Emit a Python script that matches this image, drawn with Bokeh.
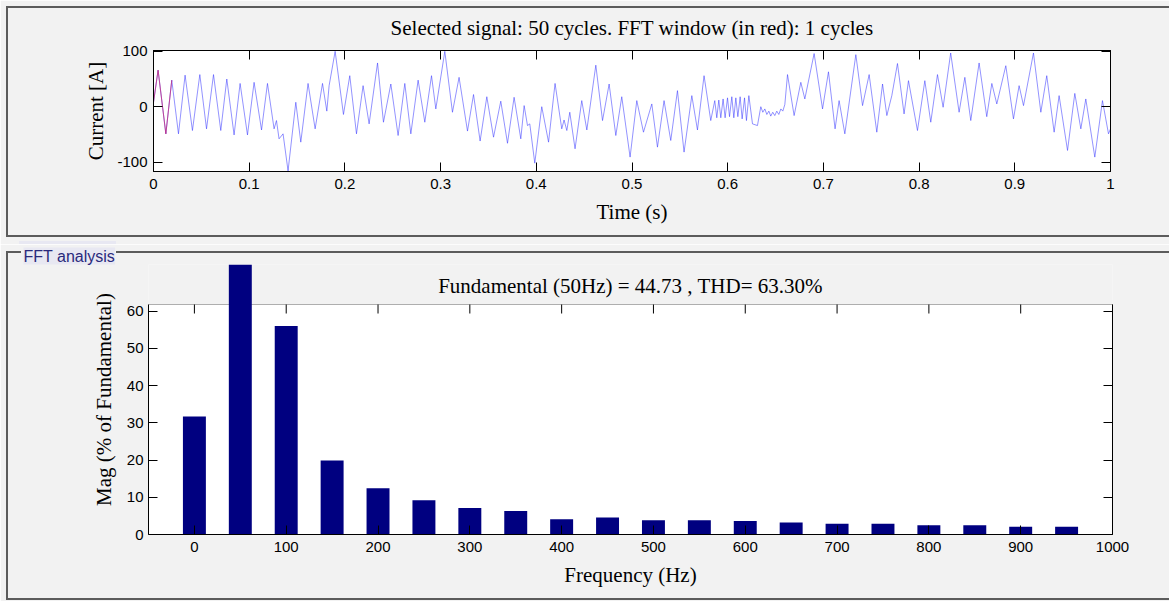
from bokeh.plotting import figure
from bokeh.models import Range1d, LinearAxis, FixedTicker, BoxAnnotation, Label
from bokeh.embed import file_html
from bokeh.resources import INLINE

# ---------------- data ----------------
time_s = [
    0.0000, 0.0048, 0.0129, 0.0191, 0.0261, 0.0330, 0.0407, 0.0484, 0.0554, 0.0627,
    0.0703, 0.0766, 0.0842, 0.0905, 0.0982, 0.1051, 0.1129, 0.1191, 0.1260, 0.1285,
    0.1312, 0.1354, 0.1406, 0.1487, 0.1539, 0.1615, 0.1689, 0.1766, 0.1811, 0.1835,
    0.1898, 0.1985, 0.2051, 0.2121, 0.2190, 0.2253, 0.2341, 0.2403, 0.2480, 0.2556,
    0.2626, 0.2689, 0.2765, 0.2835, 0.2905, 0.2950, 0.3044, 0.3124, 0.3193, 0.3281,
    0.3344, 0.3413, 0.3483, 0.3553, 0.3629, 0.3699, 0.3768, 0.3838, 0.3873, 0.3908,
    0.3932, 0.3984, 0.4057, 0.4128, 0.4196, 0.4266, 0.4290, 0.4319, 0.4350, 0.4405,
    0.4475, 0.4528, 0.4622, 0.4692, 0.4761, 0.4831, 0.4893, 0.4980, 0.5050, 0.5120,
    0.5207, 0.5266, 0.5335, 0.5405, 0.5475, 0.5544, 0.5625, 0.5684, 0.5753, 0.5823,
    0.5865, 0.5886, 0.5907, 0.5928, 0.5952, 0.5973, 0.5998, 0.6019, 0.6043, 0.6064,
    0.6085, 0.6106, 0.6130, 0.6151, 0.6176, 0.6196, 0.6221, 0.6259, 0.6311, 0.6346,
    0.6367, 0.6388, 0.6409, 0.6430, 0.6450, 0.6471, 0.6492, 0.6513, 0.6534, 0.6555,
    0.6576, 0.6597, 0.6625, 0.6694, 0.6764, 0.6806, 0.6903, 0.6991, 0.7053, 0.7122,
    0.7164, 0.7224, 0.7339, 0.7409, 0.7478, 0.7558, 0.7618, 0.7663, 0.7715, 0.7774,
    0.7843, 0.7889, 0.7983, 0.8060, 0.8122, 0.8192, 0.8251, 0.8330, 0.8418, 0.8478,
    0.8540, 0.8627, 0.8707, 0.8760, 0.8812, 0.8906, 0.8986, 0.9045, 0.9091, 0.9195,
    0.9272, 0.9334, 0.9411, 0.9463, 0.9551, 0.9627, 0.9690, 0.9742, 0.9836, 0.9916,
    0.9979, 1.0000,
]
current_a = [
    8, 66, -49, 48, -49, 57, -43, 58, -40, 58,
    -43, 50, -51, 42, -51, 44, -42, 42, -40, -25,
    -58, -49, -116, 8, -64, 42, -40, 42, -8, 38,
    100, -14, 56, -49, 38, -31, 79, -28, 41, -52,
    42, -49, 48, -28, 56, -4, 100, -10, 53, -44,
    22, -62, 18, -55, 10, -66, 17, -58, 2, -34,
    -31, -102, 0, -64, 42, -40, -24, -43, -10, -76,
    11, -42, 75, -25, 41, -52, 18, -91, 11, -46,
    5, -73, 11, -61, 29, -82, 20, -42, 56, -25,
    11, -20, 12, -20, 14, -20, 16, -18, 18, -20,
    16, -18, 18, -22, 16, -25, 20, -31, -34, 0,
    -10, -4, -14, -8, -17, -10, -16, -8, -14, -4,
    -8, 4, 58, -16, 44, 14, 96, -4, 63, -40,
    11, -49, 94, 2, 58, -46, 41, -16, 20, 78,
    -13, 47, -43, 47, -28, 58, -1, 97, -10, 53,
    -25, 79, -18, 42, 5, 74, -22, 38, 2, 97,
    -10, 56, -46, 20, -79, 24, -40, 14, -91, 11,
    -49, -40,
]
fft_window_end_s = 0.02          # 1 cycle of 50 Hz, drawn in red

time_ticks = [0, 0.1, 0.2, 0.3, 0.4, 0.5, 0.6, 0.7, 0.8, 0.9, 1]
time_tick_labels = ["0", "0.1", "0.2", "0.3", "0.4", "0.5", "0.6", "0.7", "0.8", "0.9", "1"]
current_ticks = [-100, 0, 100]
current_tick_labels = ["-100", "0", "100"]

freq_hz = [0, 50, 100, 150, 200, 250, 300, 350, 400, 450,
           500, 550, 600, 650, 700, 750, 800, 850, 900, 950]
mag_pct = [31.7, 100, 56.0, 19.9, 12.4, 9.2, 7.1, 6.3, 4.1, 4.6,
           3.8, 3.8, 3.6, 3.2, 2.9, 2.9, 2.5, 2.5, 2.1, 2.1]
freq_ticks = [0, 100, 200, 300, 400, 500, 600, 700, 800, 900, 1000]
mag_ticks = [0, 10, 20, 30, 40, 50, 60]

title_signal = "Selected signal: 50 cycles. FFT window (in red): 1 cycles"
title_fft = "Fundamental (50Hz) = 44.73 , THD= 63.30%"
panel_label = "FFT analysis"

# ---------------- layout / style ----------------
SERIF = "Liberation Serif"
SANS = "Liberation Sans"
PANEL_BG = "#f2f2f2"
PANEL_LINE = "#5c5c5c"
LABEL_BG = "#e8e8f2"
W = 1169
H1, H2 = 244, 357

L1, R1, T1, B1 = 153, 1110, 50, 171
Y1MIN, Y1MAX = -117, 101.5

L2, R2, T2, B2 = 148, 1112, 20, 290
X2MIN, X2MAX = -50, 1000
YBOX = 61.8
BOX_TOP_PX = 60
PPU2 = (B2 - BOX_TOP_PX) / YBOX
Y2MAX = (B2 - T2) / PPU2
TICK = 9


def x2(px):
    return X2MIN + (px - L2) / (R2 - L2) * (X2MAX - X2MIN)


def y2(py):
    return Y2MAX - (py - T2) / PPU2


def style_axis(ax, ticks, labels=None, blank=False):
    ax.ticker = FixedTicker(ticks=ticks)
    ax.major_tick_in = TICK
    ax.major_tick_out = 0
    ax.minor_tick_line_color = None
    ax.axis_line_color = "black"
    ax.major_tick_line_color = "black"
    ax.major_label_text_font = SANS
    ax.major_label_text_font_size = "15px"
    ax.major_label_text_color = "black"
    ax.axis_label_text_font = SERIF
    ax.axis_label_text_font_size = "21px"
    ax.axis_label_text_font_style = "normal"
    ax.axis_label_text_color = "black"
    if blank:
        ax.major_label_overrides = {t: "" for t in ticks}
    elif labels is not None:
        ax.major_label_overrides = {t: l for t, l in zip(ticks, labels)}


def line_layer(color, x, y, w, h):
    return f"linear-gradient({color},{color}) {x}px {y}px / {w}px {h}px no-repeat"


def panel_css(layers):
    return (":host { position: relative; }\n"
            ":host::after { content: ''; position: absolute; left: 0; top: 0; "
            "width: 100%; height: 100%; pointer-events: none; z-index: 10; "
            "background: " + ", ".join(layers) + "; }")


# ---------------- top panel: signal ----------------
p1 = figure(width=W, height=H1, output_backend="svg", toolbar_location=None,
            x_range=Range1d(0, 1), y_range=Range1d(Y1MIN, Y1MAX),
            min_border_left=L1, min_border_right=W - R1,
            min_border_top=T1, min_border_bottom=H1 - B1,
            background_fill_color="white", border_fill_color=PANEL_BG,
            outline_line_color="black", title=title_signal)
p1.grid.visible = False
p1.title.align = "center"
p1.title.text_font = SERIF
p1.title.text_font_size = "21px"
p1.title.text_font_style = "normal"
p1.title.text_color = "black"
p1.title.standoff = 21
p1.stylesheets = [panel_css([
    line_layer(PANEL_LINE, 6, 6, 1200, 2),
    line_layer(PANEL_LINE, 6, 6, 2, 231),
    line_layer(PANEL_LINE, 6, 235, 1200, 2),
    line_layer(LABEL_BG, 19, 241, 97, 3),
])]

p1.line(time_s, current_a, line_color="#3030ff", line_width=0.7, line_alpha=0.75)
n_red = sum(1 for t in time_s if t <= fft_window_end_s)
p1.line(time_s[:n_red], current_a[:n_red], line_color="#c8287a", line_width=0.9, line_alpha=0.85)

style_axis(p1.xaxis[0], time_ticks, time_tick_labels)
p1.xaxis[0].axis_label = "Time (s)"
p1.xaxis[0].major_label_standoff = 7
p1.xaxis[0].axis_label_standoff = 8
style_axis(p1.yaxis[0], current_ticks, current_tick_labels)
p1.yaxis[0].axis_label = "Current [A]"
p1.yaxis[0].major_label_standoff = 6
p1.yaxis[0].axis_label_standoff = 6

ax_top1 = LinearAxis()
style_axis(ax_top1, time_ticks, blank=True)
p1.add_layout(ax_top1, "above")
ax_right1 = LinearAxis()
style_axis(ax_right1, current_ticks, blank=True)
p1.add_layout(ax_right1, "right")

# ---------------- bottom panel: FFT ----------------
p2 = figure(width=W, height=H2, output_backend="svg", toolbar_location=None,
            x_range=Range1d(X2MIN, X2MAX), y_range=Range1d(0, Y2MAX),
            min_border_left=L2, min_border_right=W - R2,
            min_border_top=T2, min_border_bottom=H2 - B2,
            background_fill_color=PANEL_BG, border_fill_color=PANEL_BG,
            outline_line_color=None, title=panel_label)
p2.grid.visible = False
p2.title.align = "left"
p2.title.offset = 23 - L2
p2.title.standoff = 0
p2.title.text_font = SANS
p2.title.text_font_size = "16px"
p2.title.text_font_style = "normal"
p2.title.text_color = "#2a2a7c"
p2.title.background_fill_color = LABEL_BG
p2.title.padding = 0
p2.stylesheets = [panel_css([
    line_layer(PANEL_LINE, 6, 7, 15, 2),
    line_layer(PANEL_LINE, 116, 7, 1100, 2),
    line_layer(PANEL_LINE, 6, 7, 2, 349),
    line_layer(PANEL_LINE, 6, 354, 1200, 2),
])]

p2.add_layout(BoxAnnotation(left=X2MIN, right=X2MAX, bottom=0, top=YBOX,
                            fill_color="white", fill_alpha=1, line_color="black",
                            line_width=1, level="underlay"))

p2.vbar(x=freq_hz, top=mag_pct, bottom=0, width=25, fill_color="#000080", line_color=None)
p2.segment(x0=freq_ticks, y0=[YBOX] * len(freq_ticks), x1=freq_ticks,
           y1=[YBOX - TICK / PPU2] * len(freq_ticks), line_color="black", line_width=1)

style_axis(p2.xaxis[0], freq_ticks)
p2.xaxis[0].axis_label = "Frequency (Hz)"
p2.xaxis[0].major_label_standoff = 7
p2.xaxis[0].axis_label_standoff = 8
style_axis(p2.yaxis[0], mag_ticks)
p2.yaxis[0].bounds = (0, YBOX)
p2.yaxis[0].axis_label = "Mag (% of Fundamental)"
p2.yaxis[0].major_label_standoff = 5
p2.yaxis[0].axis_label_standoff = 8

ax_right2 = LinearAxis(bounds=(0, YBOX))
style_axis(ax_right2, mag_ticks, blank=True)
p2.add_layout(ax_right2, "right")

p2.add_layout(Label(x=x2((L2 + R2) / 2), y=y2(41), text=title_fft, text_align="center",
                    text_baseline="middle", text_font=SERIF, text_font_size="21px",
                    text_color="black"))

open("out.html", "w").write(file_html([p1, p2], INLINE))
